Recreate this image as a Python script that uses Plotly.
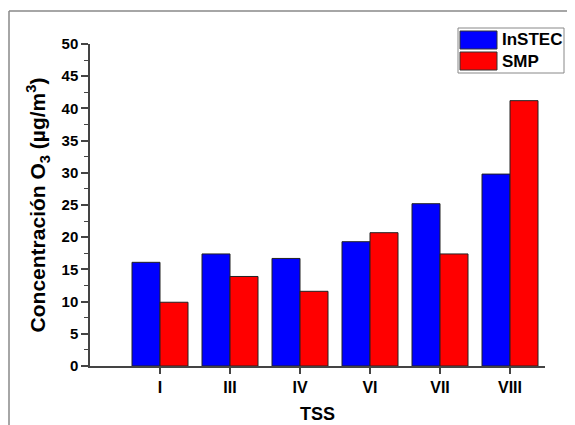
import plotly.graph_objects as go

categories = ["I", "III", "IV", "VI", "VII", "VIII"]
instec = [16.1, 17.4, 16.7, 19.3, 25.2, 29.8]
smp = [9.9, 13.9, 11.6, 20.7, 17.4, 41.2]
series_names = ["InSTEC", "SMP"]
colors = ["#0000FF", "#FF0000"]
y_ticks = [0, 5, 10, 15, 20, 25, 30, 35, 40, 45, 50]

FONT = "Liberation Sans, Arial, sans-serif"

fig = go.Figure()
for name, vals, c in zip(series_names, [instec, smp], colors):
    fig.add_trace(go.Bar(
        x=categories, y=vals, name=name,
        marker=dict(color=c, line=dict(color="#222222", width=1)),
        showlegend=False,
    ))

OFF = 8  # page body margin
W, H = 575 - OFF, 425 - OFF
L, T = 90 - OFF, 44 - OFF
R = W - (545 - OFF)
B = H - (366 - OFF)
pw, ph = W - L - R, H - T - B

def px(x):
    return (x - OFF - L) / pw

def py(y):
    return (H - B - (y - OFF)) / ph

shapes = [
    # outer frame (top & left)
    dict(type="line", xref="paper", yref="paper", x0=px(9), x1=px(575), y0=py(11), y1=py(11),
         line=dict(color="#888888", width=1.5)),
    dict(type="line", xref="paper", yref="paper", x0=px(9), x1=px(9), y0=py(11), y1=py(425),
         line=dict(color="#888888", width=1.5)),
    # legend box
    dict(type="rect", xref="paper", yref="paper", x0=px(458), x1=px(564), y0=py(73), y1=py(28),
         line=dict(color="#888888", width=1), fillcolor="white"),
    dict(type="rect", xref="paper", yref="paper", x0=px(460), x1=px(497), y0=py(49), y1=py(31),
         line=dict(color="#333333", width=1), fillcolor=colors[0]),
    dict(type="rect", xref="paper", yref="paper", x0=px(460), x1=px(497), y0=py(70), y1=py(52),
         line=dict(color="#333333", width=1), fillcolor=colors[1]),
]
annotations = [
    dict(xref="paper", yref="paper", x=px(500), y=py(40), text=series_names[0], showarrow=False,
         xanchor="left", yanchor="middle", font=dict(family=FONT, size=17, color="black", weight="bold")),
    dict(xref="paper", yref="paper", x=px(500), y=py(61), text=series_names[1], showarrow=False,
         xanchor="left", yanchor="middle", font=dict(family=FONT, size=17, color="black", weight="bold")),
]

fig.update_layout(
    width=W, height=H,
    margin=dict(l=L, r=R, t=T, b=B, autoexpand=False),
    paper_bgcolor="white", plot_bgcolor="white",
    barmode="group", bargap=0.2, bargroupgap=0,
    font=dict(family=FONT, color="black"),
    shapes=shapes, annotations=annotations,
    xaxis=dict(
        range=[-1, 5.5], showgrid=False, zeroline=False, automargin=False,
        showline=True, linecolor="#444444", linewidth=1.5,
        ticks="outside", ticklen=6, tickcolor="#444444", tickwidth=1.5,
        tickfont=dict(family=FONT, size=16, color="black", weight="bold"),
        title=dict(text="TSS", font=dict(family=FONT, size=18, color="black", weight="bold"), standoff=12),
    ),
    yaxis=dict(
        range=[0, 50], tickvals=y_ticks, showgrid=False, zeroline=False, automargin=False,
        showline=True, linecolor="#444444", linewidth=1.5,
        ticks="outside", ticklen=7, tickcolor="#444444", tickwidth=1.5,
        minor=dict(dtick=2.5, ticks="outside", ticklen=4, tickcolor="#444444", tickwidth=1),
        tickfont=dict(family=FONT, size=15, color="black", weight="bold"),
        title=dict(text="Concentración O<sub>3</sub> (µg/m<sup>3</sup>)",
                   font=dict(family=FONT, size=21, color="black", weight="bold"), standoff=10),
    ),
)

fig.write_html("out.html")
